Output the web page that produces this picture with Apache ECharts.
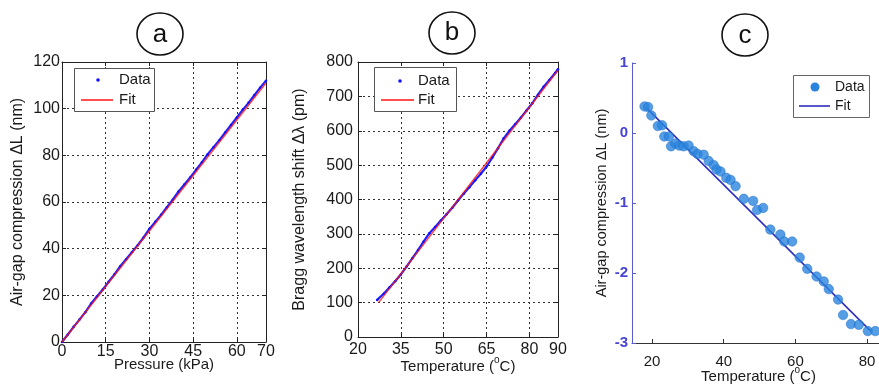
<!DOCTYPE html>
<html>
<head>
<meta charset="utf-8">
<script src="https://cdn.jsdelivr.net/npm/echarts@6/dist/echarts.min.js"></script>
<style>
html,body{margin:0;padding:0;background:#fff;}
#chart{width:879px;height:385px;}
</style>
</head>
<body>
<div id="chart"></div>
<script>
// ---------- Panel a : pressure ----------
const pressureA = [0,2,4,6,8,10,12,14,16,18,20,22,24,26,28,30,32,34,36,38,40,42,44,46,48,50,52,54,56,58,60,62,64,66,68,70];
const compressionA = [0,3.2,6.5,9.6,12.8,16.5,19.5,22.5,25.8,29,32.5,35.5,38.5,41.5,44.8,48.5,51.5,54.5,57.8,61,64.5,67.5,70.5,73.8,77,80.5,83.5,86.5,89.8,93,96.2,99.5,102.5,105.8,109,112];
const fitAX = [0, 70];
const fitAY = [0, 111];
const ticksAX = [0,15,30,45,60,70];

// ---------- Panel b : Bragg shift ----------
const tempB = [26.7,29,31,33,35,37,39,41,43,45,47,49,51,53,55,57,59,61,63,65,67,69,71,73,75,77,79,81,83,85,87,89,90];
const shiftB = [108,126,144,162,182,205,229,253,278,302,320,339,357,376,397,417,436,456,475,496,522,549,578,600,619,638,659,680,705,728,748,768,779];
const fitBX = [27.2, 90];
const fitBY = [100, 776];
const ticksBX = [20,35,50,65,80,90];

// ---------- Panel c : air-gap vs temperature ----------
const tempC = [17.9,18.9,19.8,21.6,22.8,23.4,24.7,25.3,26.5,27.6,28.8,30.2,31.6,32.7,34.4,35.8,37.2,38.0,39.1,40.7,41.9,43.3,45.6,48.2,49.3,51.0,53.0,55.8,56.9,59.1,61.2,63.3,65.9,67.9,69.3,71.9,73.3,75.5,77.7,80.2,82.3];
const compC = [0.38,0.37,0.25,0.10,0.11,-0.05,-0.05,-0.19,-0.15,-0.18,-0.19,-0.18,-0.26,-0.30,-0.31,-0.40,-0.46,-0.52,-0.55,-0.64,-0.67,-0.76,-0.94,-0.97,-1.10,-1.07,-1.38,-1.45,-1.55,-1.55,-1.78,-1.94,-2.05,-2.12,-2.23,-2.38,-2.60,-2.73,-2.74,-2.83,-2.83];
const fitCX = [18.2, 80.8];
const fitCY = [0.37, -2.82];
const ticksCX = [20,40,60,80];

const zip = (xs, ys) => xs.map((x, i) => [x, ys[i]]);
const FONT = 'Liberation Sans, Arial, sans-serif';
const TXT = '#1a1a1a';

function boxAxis(base) {
  return Object.assign({
    nameMoveOverlap: false,
    axisLine: {show: true, onZero: false, lineStyle: {color: '#222', width: 1}},
    axisTick: {show: true, inside: true, length: 4, lineStyle: {color: '#222'}},
    splitLine: {show: true, lineStyle: {color: '#333', type: [2, 3], width: 1}},
    axisLabel: {color: TXT, fontSize: 16, fontFamily: FONT},
    nameTextStyle: {color: TXT, fontSize: 15, fontFamily: FONT}
  }, base);
}
function mirrorAxis(base) {
  return Object.assign({
    axisLine: {show: true, onZero: false, lineStyle: {color: '#222', width: 1}},
    axisTick: {show: true, inside: true, length: 4, lineStyle: {color: '#222'}},
    splitLine: {show: false},
    axisLabel: {show: false}
  }, base);
}
const supRich = {sup: {fontSize: 10, verticalAlign: 'top', fontFamily: FONT, color: TXT, lineHeight: 10}};
const nameSup = {color: TXT, fontSize: 15, fontFamily: FONT, lineHeight: 24, rich: supRich};

const option = {
  animation: false,
  backgroundColor: '#ffffff',
  textStyle: {fontFamily: FONT},
  grid: [
    {left: 62, top: 62, width: 204, height: 280, containLabel: false, outerBoundsMode: 'none'},
    {left: 358, top: 62, width: 200, height: 275, containLabel: false, outerBoundsMode: 'none'},
    {left: 632, top: 63, width: 253, height: 280, containLabel: false, outerBoundsMode: 'none'}
  ],
  xAxis: [
    boxAxis({gridIndex: 0, type: 'value', min: 0, max: 70, interval: 15,
      axisLabel: {color: TXT, fontSize: 16, fontFamily: FONT, margin: 2},
      name: 'Pressure (kPa)', nameLocation: 'middle', nameGap: 15}),
    boxAxis({gridIndex: 1, type: 'value', min: 20, max: 90, interval: 15,
      axisLabel: {color: TXT, fontSize: 16, fontFamily: FONT, margin: 5},
      name: 'Temperature ({sup|o}C)', nameLocation: 'middle', nameGap: 18,
      nameTextStyle: nameSup}),
    {gridIndex: 2, type: 'value', min: 14.4, max: 85, splitNumber: 3, nameMoveOverlap: false,
      axisLine: {show: true, onZero: false, lineStyle: {color: '#333', width: 1}},
      axisTick: {show: true, inside: true, length: 4, lineStyle: {color: '#333'}},
      splitLine: {show: false},
      axisLabel: {color: TXT, fontSize: 15, fontFamily: FONT, margin: 11, showMinLabel: false, showMaxLabel: false},
      name: 'Temperature ({sup|o}C)', nameLocation: 'middle', nameGap: 22,
      nameTextStyle: nameSup},
    mirrorAxis({gridIndex: 0, type: 'value', position: 'top', min: 0, max: 70, interval: 15}),
    mirrorAxis({gridIndex: 1, type: 'value', position: 'top', min: 20, max: 90, interval: 15})
  ],
  yAxis: [
    boxAxis({gridIndex: 0, type: 'value', min: 0, max: 120, interval: 20,
      axisLabel: {color: TXT, fontSize: 16, fontFamily: FONT, margin: 2},
      name: 'Air-gap compression ΔL (nm)', nameLocation: 'middle', nameGap: 36,
      nameTextStyle: {color: TXT, fontSize: 16, fontFamily: FONT}}),
    boxAxis({gridIndex: 1, type: 'value', min: 0, max: 800, interval: 100,
      axisLabel: {color: TXT, fontSize: 16, fontFamily: FONT, margin: 5},
      name: 'Bragg wavelength shift Δλ (pm)', nameLocation: 'middle', nameGap: 50,
      nameTextStyle: {color: TXT, fontSize: 16, fontFamily: FONT}}),
    {gridIndex: 2, type: 'value', min: -3, max: 1, interval: 1, nameMoveOverlap: false,
      axisLine: {show: true, onZero: false, lineStyle: {color: '#5b5bd6', width: 1}},
      axisTick: {show: true, inside: true, length: 4, lineStyle: {color: '#5b5bd6'}},
      splitLine: {show: false},
      axisLabel: {color: '#4646d2', fontSize: 15, fontWeight: 'bold', fontFamily: FONT, margin: 4},
      name: 'Air-gap compression ΔL (nm)', nameLocation: 'middle', nameGap: 23,
      nameTextStyle: {color: TXT, fontSize: 14.5, fontFamily: FONT}},
    mirrorAxis({gridIndex: 0, type: 'value', position: 'right', min: 0, max: 120, interval: 20}),
    mirrorAxis({gridIndex: 1, type: 'value', position: 'right', min: 0, max: 800, interval: 100})
  ],
  series: [
    {name: 'a-Data', type: 'line', xAxisIndex: 0, yAxisIndex: 0, data: zip(pressureA, compressionA),
      symbol: 'circle', symbolSize: 2.5, showSymbol: true, itemStyle: {color: '#1010ff'},
      lineStyle: {color: '#2020ff', width: 2.2}, z: 3},
    {name: 'a-Fit', type: 'line', xAxisIndex: 0, yAxisIndex: 0, data: zip(fitAX, fitAY),
      showSymbol: false, lineStyle: {color: '#ff1010', width: 1.4, opacity: 0.8}, z: 4},
    {name: 'b-Data', type: 'line', xAxisIndex: 1, yAxisIndex: 1, data: zip(tempB, shiftB),
      symbol: 'circle', symbolSize: 2.5, showSymbol: true, itemStyle: {color: '#1010ff'},
      lineStyle: {color: '#2020ff', width: 2.2}, z: 3},
    {name: 'b-Fit', type: 'line', xAxisIndex: 1, yAxisIndex: 1, data: zip(fitBX, fitBY),
      showSymbol: false, lineStyle: {color: '#ff1010', width: 1.4, opacity: 0.8}, z: 4},
    {name: 'c-Fit', type: 'line', xAxisIndex: 2, yAxisIndex: 2, data: zip(fitCX, fitCY),
      showSymbol: false, lineStyle: {color: '#2f2fbf', width: 1.6}, z: 3},
    {name: 'c-Data', type: 'scatter', xAxisIndex: 2, yAxisIndex: 2, data: zip(tempC, compC),
      symbol: 'circle', symbolSize: 9.5, itemStyle: {color: '#2b84dd', borderColor: '#1c6cc9', borderWidth: 0.6}, z: 4}
  ],
  graphic: [
    // panel labels
    {type: 'ellipse', shape: {cx: 160, cy: 34, rx: 23, ry: 21}, style: {fill: 'none', stroke: '#111', lineWidth: 1.6}},
    {type: 'text', x: 160, y: 35, style: {text: 'a', fontSize: 26, fontFamily: FONT, fill: '#111', align: 'center', verticalAlign: 'middle'}},
    {type: 'ellipse', shape: {cx: 452, cy: 33, rx: 23, ry: 21}, style: {fill: 'none', stroke: '#111', lineWidth: 1.6}},
    {type: 'text', x: 452, y: 33, style: {text: 'b', fontSize: 26, fontFamily: FONT, fill: '#111', align: 'center', verticalAlign: 'middle'}},
    {type: 'ellipse', shape: {cx: 745, cy: 35, rx: 23, ry: 21}, style: {fill: 'none', stroke: '#111', lineWidth: 1.6}},
    {type: 'text', x: 745, y: 36, style: {text: 'c', fontSize: 26, fontFamily: FONT, fill: '#111', align: 'center', verticalAlign: 'middle'}},
    // legend a
    {type: 'rect', z: 100, shape: {x: 74.5, y: 68.5, width: 80, height: 43}, style: {fill: '#fff', stroke: '#555', lineWidth: 1}},
    {type: 'circle', z: 101, shape: {cx: 98, cy: 80, r: 1.8}, style: {fill: '#1010ff'}},
    {type: 'line', z: 101, shape: {x1: 81, y1: 100, x2: 113, y2: 100}, style: {stroke: '#ff1010', lineWidth: 1.5}},
    {type: 'text', z: 101, x: 119, y: 80, style: {text: 'Data', fontSize: 15, fontFamily: FONT, fill: TXT, verticalAlign: 'middle'}},
    {type: 'text', z: 101, x: 119, y: 100, style: {text: 'Fit', fontSize: 15, fontFamily: FONT, fill: TXT, verticalAlign: 'middle'}},
    // legend b
    {type: 'rect', z: 100, shape: {x: 374.5, y: 67.5, width: 82, height: 44}, style: {fill: '#fff', stroke: '#555', lineWidth: 1}},
    {type: 'circle', z: 101, shape: {cx: 400, cy: 81, r: 1.8}, style: {fill: '#1010ff'}},
    {type: 'line', z: 101, shape: {x1: 381, y1: 100, x2: 414, y2: 100}, style: {stroke: '#ff1010', lineWidth: 1.5}},
    {type: 'text', z: 101, x: 418, y: 81, style: {text: 'Data', fontSize: 15, fontFamily: FONT, fill: TXT, verticalAlign: 'middle'}},
    {type: 'text', z: 101, x: 418, y: 100, style: {text: 'Fit', fontSize: 15, fontFamily: FONT, fill: TXT, verticalAlign: 'middle'}},
    // legend c
    {type: 'rect', z: 100, shape: {x: 793.5, y: 75.5, width: 76, height: 42}, style: {fill: '#fff', stroke: '#666', lineWidth: 1}},
    {type: 'circle', z: 101, shape: {cx: 815, cy: 87, r: 4.5}, style: {fill: '#2b84dd'}},
    {type: 'line', z: 101, shape: {x1: 799, y1: 106, x2: 830, y2: 106}, style: {stroke: '#2f2fbf', lineWidth: 1.6}},
    {type: 'text', z: 101, x: 835, y: 87, style: {text: 'Data', fontSize: 14, fontFamily: FONT, fill: TXT, verticalAlign: 'middle'}},
    {type: 'text', z: 101, x: 835, y: 106, style: {text: 'Fit', fontSize: 14, fontFamily: FONT, fill: TXT, verticalAlign: 'middle'}}
  ]
};

const chart = echarts.init(document.getElementById('chart'), null, {renderer: 'canvas'});
chart.setOption(option);
</script>
</body>
</html>
